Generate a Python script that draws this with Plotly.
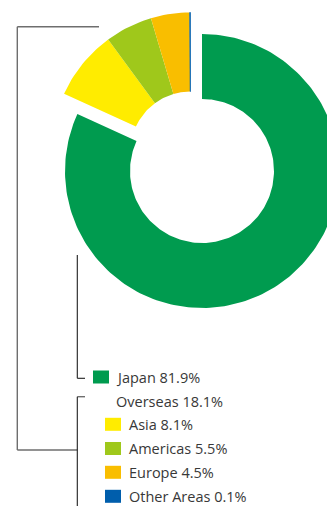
import numpy as np
import plotly.graph_objects as go

# Sales composition by region (%)
regions = ["Japan", "Asia", "Americas", "Europe", "Other Areas"]
shares = [81.9, 8.1, 5.5, 4.5, 0.1]
overseas_label = "Overseas"
overseas_share = 18.1
colors = ["#009b4f", "#ffec00", "#9fc81b", "#f9be00", "#005eac"]

W, H = 327, 506
CX, CY = 202.0, 171.0          # ring centre (px)
JP_R = (72.0, 137.0)           # inner / outer radius of the domestic ring
OS_R = (60.0, 139.0)           # inner / outer radius of the overseas ring
OS_SHIFT = (-11.5, -19.5)      # overseas segments pulled out as a group

fig = go.Figure()


def ring_segment(a0, a1, r_in, r_out, cx, cy, n=240):
    """Closed outline of an annular sector, angles in degrees clockwise from 12 o'clock."""
    steps = max(int(abs(a1 - a0) / 360 * n), 2)
    t = np.radians(np.linspace(a0, a1, steps))
    xo, yo = cx + r_out * np.sin(t), cy - r_out * np.cos(t)
    xi, yi = cx + r_in * np.sin(t[::-1]), cy - r_in * np.cos(t[::-1])
    xs = np.concatenate([xo, xi, xo[:1]])
    ys = np.concatenate([yo, yi, yo[:1]])
    return xs, ys


total = sum(shares)
edges = np.concatenate([[0.0], np.cumsum(shares)]) / total * 360.0
for i, (name, val, col) in enumerate(zip(regions, shares, colors)):
    if i == 0:
        cx, cy, (ri, ro) = CX, CY, JP_R
    else:
        cx, cy, (ri, ro) = CX + OS_SHIFT[0], CY + OS_SHIFT[1], OS_R
    xs, ys = ring_segment(edges[i], edges[i + 1], ri, ro, cx, cy)
    fig.add_trace(go.Scatter(
        x=xs, y=ys, mode="lines", fill="toself", fillcolor=col,
        line=dict(width=0.6 if val < 1 else 0, color=col),
        name=name, hoveron="fills", text=f"{name} {val}%", hoverinfo="text",
        showlegend=False,
    ))

# Legend: swatches and labels
TXT = "#383838"
FONT = dict(family="Open Sans, sans-serif", size=14.5, color=TXT)
rows = [
    (regions[0], shares[0], colors[0], 93, 377.0),
    (overseas_label, overseas_share, None, 105, 401.5),
]
row_y = [424.3, 448.5, 472.3, 496.3]
for name, val, col, y in zip(regions[1:], shares[1:], colors[1:], row_y):
    rows.append((name, val, col, 105, y))

shapes = []
annotations = []
for k, (name, val, col, sx, y) in enumerate(rows):
    if col is not None:
        shapes.append(dict(type="rect", xref="x", yref="y", x0=sx, x1=sx + 16,
                           y0=y - 6.5, y1=y + 6.5, fillcolor=col, line=dict(width=0)))
    tx = 114.0 if k < 2 else 127.0
    annotations.append(dict(x=tx, y=y, xref="x", yref="y", text=f"{name} {val}%",
                            showarrow=False, xanchor="left", yanchor="middle",
                            font=FONT))

# Bracket lines
GRAY = dict(color="#6e6e6e", width=1.4)
DARK = dict(color="#1e1e1e", width=1.1)
for x0, y0, x1, y1, ln in [
    (17.3, 26.7, 99.0, 26.7, GRAY),
    (17.3, 26.7, 17.3, 450.0, GRAY),
    (17.3, 450.0, 77.3, 450.0, GRAY),
    (77.3, 396.7, 85.0, 396.7, GRAY),
    (77.3, 396.7, 77.3, 506.0, DARK),
    (77.3, 255.0, 77.3, 378.3, DARK),
    (77.3, 378.3, 85.0, 378.3, DARK),
]:
    shapes.append(dict(type="line", xref="x", yref="y", x0=x0, y0=y0, x1=x1, y1=y1,
                       line=ln, layer="below"))

fig.update_layout(
    width=W, height=H,
    margin=dict(l=0, r=0, t=0, b=0),
    paper_bgcolor="white", plot_bgcolor="white",
    xaxis=dict(range=[0, W], visible=False, fixedrange=True),
    yaxis=dict(range=[H, 0], visible=False, fixedrange=True),
    shapes=shapes, annotations=annotations,
    showlegend=False,
)

fig.write_html("out.html", config={"displayModeBar": False})
